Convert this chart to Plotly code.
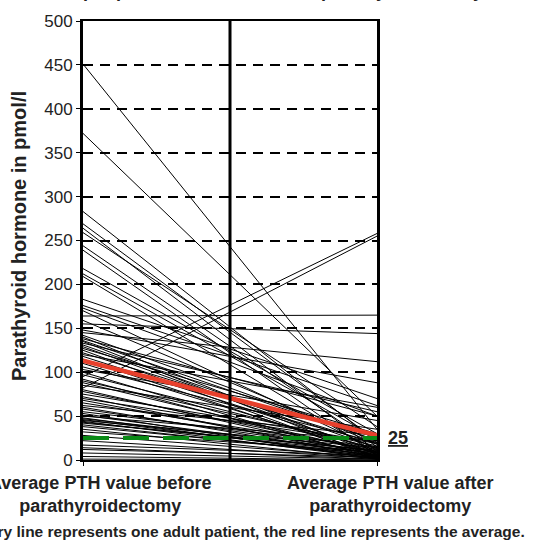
import plotly.graph_objects as go

# PTH (pmol/l) per adult patient, before and after parathyroidectomy
pth_before = [451, 372, 283, 269, 264, 259, 244, 239, 218, 212, 209, 183, 176, 173, 170, 164, 159, 155,
              148, 145, 142, 140, 138, 136, 135, 133, 131, 129, 127, 125, 122, 120, 118, 115,
              110, 106, 103, 100, 97,
              95, 92, 90, 88, 85, 82, 80, 78, 75, 72, 70, 68, 65, 62, 60, 58, 55, 53, 51, 50,
              48, 47, 46, 45, 44, 43, 42, 40, 38, 35, 32, 28,
              22, 17, 14, 12, 8, 4, 1]
pth_after = [35, 50, 20, 22, 10, 38, 15, 5, 30, 25, 8, 70, 62, 50, 12, 165, 18, 144,
             88, 112, 22, 6, 50, 22, 3, 55, 14, 9, 30, 2, 18, 60, 11, 4,
             7, 20, 45, 1, 13,
             258, 3, 16, 8, 35, 255, 5, 10, 20, 2, 19, 6, 12, 28, 4, 9, 15, 1, 7, 22,
             3, 10, 5, 14, 2, 8, 11, 4, 6, 1, 9, 3,
             2, 5, 1, 3, 1, 0, 0]
moments = [0, 1]
target_value = 25
y_ticks = [0, 50, 100, 150, 200, 250, 300, 350, 400, 450, 500]

avg_before = sum(pth_before) / len(pth_before)
avg_after = sum(pth_after) / len(pth_after)

xs, ys = [], []
for b, a in zip(pth_before, pth_after):
    xs += [moments[0], moments[1], None]
    ys += [b, a, None]

fig = go.Figure()
fig.add_trace(go.Scatter(x=xs, y=ys, mode="lines", line=dict(color="black", width=1),
                         hoverinfo="skip", showlegend=False))
fig.add_trace(go.Scatter(x=moments, y=[avg_before, avg_after], mode="lines",
                         line=dict(color="#e8402c", width=4.5), showlegend=False))
fig.add_trace(go.Scatter(x=moments, y=[target_value, target_value], mode="lines",
                         line=dict(color="#0a8a16", width=4, dash="26px,14px"), showlegend=False))

fig.add_shape(type="line", xref="x", yref="paper", x0=0.5, x1=0.5, y0=0, y1=1,
              line=dict(color="black", width=3), layer="above")

FONT = "Liberation Sans, Arial, sans-serif"
fig.update_layout(
    width=546, height=543,
    margin=dict(l=83, r=169, t=19, b=83),
    paper_bgcolor="white", plot_bgcolor="white",
    font=dict(family=FONT, color="black"),
    xaxis=dict(range=[0, 1], showgrid=False, zeroline=False, showline=True, linecolor="black",
               linewidth=2, mirror=True, tickvals=moments, ticktext=["", ""], ticks="outside",
               ticklen=4, tickcolor="black"),
    yaxis=dict(range=[0, 500], tickvals=y_ticks, showgrid=True, gridcolor="black", gridwidth=2,
               griddash="10px,7px", zeroline=False, showline=True, linecolor="black", linewidth=3,
               mirror=True, ticks="outside", ticklen=4, tickcolor="black",
               tickfont=dict(size=17, color="#222")),
)

bold = dict(family=FONT, size=18, color="#222")
fig.add_annotation(xref="paper", yref="paper", x=-0.218, xanchor="center", y=0.51, yanchor="middle",
                   textangle=-90, text="<b>Parathyroid hormone in pmol/l</b>", showarrow=False,
                   font=dict(family=FONT, size=20, color="#222"))
fig.add_annotation(xref="paper", yref="paper", x=0.058, xanchor="center", y=-0.024, yanchor="top",
                   text="<b>Average PTH value before<br>parathyroidectomy</b>", showarrow=False,
                   font=bold)
fig.add_annotation(xref="paper", yref="paper", x=1.044, xanchor="center", y=-0.024, yanchor="top",
                   text="<b>Average PTH value after<br>parathyroidectomy</b>", showarrow=False,
                   font=bold)
fig.add_annotation(xref="paper", yref="paper", x=0.561, xanchor="center", y=-0.163, yanchor="middle",
                   text="<b>Every line represents one adult patient, the red line represents the average.</b>",
                   showarrow=False, font=dict(family=FONT, size=15.5, color="#222"))
fig.add_annotation(xref="paper", yref="y", x=1.03, xanchor="left", y=target_value,
                   text="<b><u>25</u></b>", showarrow=False,
                   font=dict(family=FONT, size=18, color="#222"))
fig.add_annotation(xref="paper", yref="paper", x=-0.146, xanchor="left", y=1.040, yanchor="bottom",
                   text="<b>PTH per patient before and after parathyroidectomy</b>", showarrow=False,
                   font=bold)

fig.write_html("out.html")
